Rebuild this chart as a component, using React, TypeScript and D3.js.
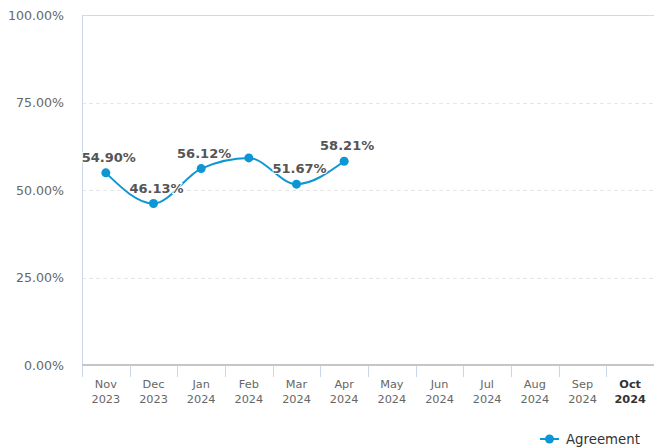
import React, { useRef, useEffect } from "react";
import * as d3 from "d3";

// months shown on the x axis (two-line labels)
const months = ["Nov", "Dec", "Jan", "Feb", "Mar", "Apr", "May", "Jun", "Jul", "Aug", "Sep", "Oct"];
const years = ["2023", "2023", "2024", "2024", "2024", "2024", "2024", "2024", "2024", "2024", "2024", "2024"];
// agreement values in %, only first six months have data
const agreement = [54.9, 46.13, 56.12, 59.17, 51.67, 58.21];
// which points carry a data label (Feb label hidden in the original)
const showLabel = [true, true, true, false, true, true];
const yTicks = [0, 25, 50, 75, 100];

const W = 654;
const H = 448;
const margin = { top: 15, right: 0, bottom: 82, left: 82 };
const FONT = "DejaVu Sans, Verdana, sans-serif";
const BLUE = "#0d96d4";

function App() {
  const svgRef = useRef<SVGSVGElement>(null);

  useEffect(() => {
    const svg = d3.select(svgRef.current);
    svg.selectAll("*").remove();

    const x = d3.scaleBand<number>()
      .domain(months.map((m, i) => i))
      .range([margin.left, W - margin.right]);
    const y = d3.scaleLinear().domain([0, 100]).range([H - margin.bottom - 1, margin.top]);

    // gridlines
    svg.append("g")
      .selectAll("line")
      .data(yTicks.filter(t => t > 0))
      .join("line")
      .attr("x1", margin.left)
      .attr("x2", W - margin.right)
      .attr("y1", d => Math.round(y(d)) + 0.5)
      .attr("y2", d => Math.round(y(d)) + 0.5)
      .attr("stroke", d => (d === 100 ? "#d8d8d8" : "#e6e6e6"))
      .attr("stroke-dasharray", d => (d === 100 ? null : "4,3"));

    // y axis labels
    svg.append("g")
      .selectAll("text")
      .data(yTicks)
      .join("text")
      .attr("x", 64)
      .attr("y", d => y(d) + 4.5)
      .attr("text-anchor", "end")
      .attr("font-family", FONT)
      .attr("font-size", 12.6)
      .attr("fill", "#666")
      .text(d => d.toFixed(2) + "%");

    // left axis line
    svg.append("line")
      .attr("x1", margin.left + 0.5).attr("x2", margin.left + 0.5)
      .attr("y1", margin.top).attr("y2", y(0) + 12)
      .attr("stroke", "#ccd6eb");

    // category tick marks
    svg.append("g")
      .selectAll("line")
      .data(months.map((m, i) => i).slice(1))
      .join("line")
      .attr("x1", d => Math.round(x(d)!) + 0.5)
      .attr("x2", d => Math.round(x(d)!) + 0.5)
      .attr("y1", y(0))
      .attr("y2", y(0) + 12)
      .attr("stroke", "#ccd6eb");

    // bottom axis line
    svg.append("line")
      .attr("x1", margin.left).attr("x2", W - margin.right)
      .attr("y1", y(0)).attr("y2", y(0))
      .attr("stroke", "#c6c6c6")
      .attr("stroke-width", 2);

    // x axis labels
    const xl = svg.append("g")
      .selectAll("text")
      .data(months.map((m, i) => i))
      .join("text")
      .attr("x", d => x(d)! + x.bandwidth() / 2)
      .attr("text-anchor", "middle")
      .attr("font-family", FONT)
      .attr("font-size", 11.3)
      .attr("font-weight", d => (d === months.length - 1 ? "bold" : "normal"))
      .attr("fill", d => (d === months.length - 1 ? "#333" : "#666"));
    xl.append("tspan").attr("y", 388).text(d => months[d]);
    xl.append("tspan").attr("x", d => x(d)! + x.bandwidth() / 2).attr("y", 403).text(d => years[d]);

    const cx = (i: number) => x(i)! + x.bandwidth() / 2;

    // series line
    const line = d3.line<number>()
      .x((d, i) => cx(i))
      .y(d => y(d))
      .curve(d3.curveMonotoneX);
    svg.append("path")
      .datum(agreement)
      .attr("d", line)
      .attr("fill", "none")
      .attr("stroke", BLUE)
      .attr("stroke-width", 2);

    svg.append("g")
      .selectAll("circle")
      .data(agreement)
      .join("circle")
      .attr("cx", (d, i) => cx(i))
      .attr("cy", d => y(d))
      .attr("r", 4.5)
      .attr("fill", BLUE);

    // data labels
    svg.append("g")
      .selectAll("text")
      .data(agreement.map((v, i) => ({ v, i })).filter(d => showLabel[d.i]))
      .join("text")
      .attr("x", d => cx(d.i) + 3)
      .attr("y", d => y(d.v) - 11)
      .attr("text-anchor", "middle")
      .attr("font-family", FONT)
      .attr("font-size", 13)
      .attr("font-weight", "bold")
      .attr("fill", "#555")
      .attr("stroke", "#fff")
      .attr("stroke-width", 2)
      .attr("paint-order", "stroke")
      .text(d => d.v.toFixed(2) + "%");

    // legend
    const lg = svg.append("g").attr("transform", "translate(540,439)");
    lg.append("line").attr("x1", 0).attr("x2", 19).attr("y1", 0).attr("y2", 0)
      .attr("stroke", BLUE).attr("stroke-width", 2);
    lg.append("circle").attr("cx", 9.5).attr("cy", 0).attr("r", 4.5).attr("fill", BLUE);
    lg.append("text").attr("x", 26).attr("y", 5)
      .attr("font-family", FONT).attr("font-size", 13.3).attr("fill", "#333")
      .text("Agreement");
  }, []);

  return (
    <svg ref={svgRef} width={W} height={H}
      style={{ position: "absolute", left: 0, top: 0, background: "#fff" }} />
  );
}

export default App;
